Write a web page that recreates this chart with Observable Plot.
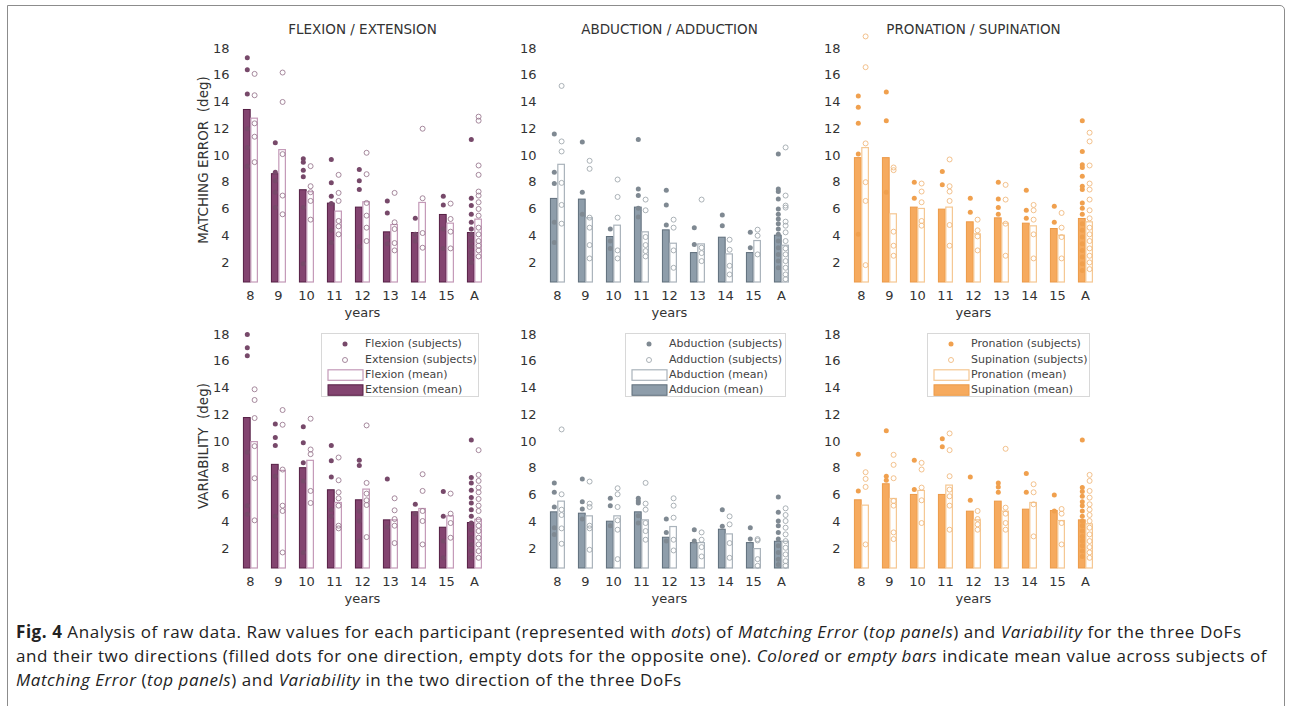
<!DOCTYPE html>
<html><head><meta charset="utf-8">
<script src="https://cdn.jsdelivr.net/npm/d3@7"></script>
<script src="https://cdn.jsdelivr.net/npm/@observablehq/plot@0.6"></script>
<style>
body{margin:0;background:#fff;overflow:hidden;}
#fig{position:relative;width:1289px;height:706px;overflow:hidden;}
#border{position:absolute;left:7px;top:5px;width:1278px;height:740px;border:1.5px solid #8c8c8c;border-top-right-radius:5px;box-sizing:border-box;}
.panel{position:absolute;}
.legend{position:absolute;background:#fff;border:1px solid #d8d8d8;font-family:"DejaVu Sans";font-size:11px;color:#444;box-sizing:border-box;}
.legend .row{position:absolute;left:0;height:14px;line-height:14px;white-space:nowrap;}
.legend .row svg{position:absolute;left:0;top:1px;}
.legend .row span{position:absolute;left:43px;top:0;}
#cap{position:absolute;left:16px;top:620px;font-family:"Open Sans";font-size:17px;letter-spacing:0.55px;line-height:24px;color:#222;white-space:nowrap;}
</style></head>
<body><div id="fig"><div id="border"></div></div>
<script>
const categories = ["8","9","10","11","12","13","14","15","A"];
const yTicks = [2,4,6,8,10,12,14,16,18];

// FLEXION / EXTENSION — matching error
const flexME_mean = [13.4, 8.6, 7.4, 6.4, 6.1, 4.25, 4.2, 5.55, 4.2];
const extME_mean  = [12.75, 10.4, 7.25, 5.8, 6.5, 4.8, 6.45, 4.9, 5.2];
const flexME_subj = [[17.3,16.4,14.6,12.0,10.6,9.2],[10.95,8.75,8.1,7.25,6.1],[9.75,9.5,8.9,8.4,6.1,1.9],[9.7,7.95,6.95,6.4,4.4,3.5],[8.95,8.1,7.45,3.2],[6.6,5.7,3.9,3.4],[5.3,4.1,3.6],[6.95,6.3,4.5,3.05],[11.2,6.8,6.25,5.6,5.0,4.5,4.1,3.6,3.2,2.75,2.4,2.0]];
const extME_subj  = [[16.1,14.5,12.4,11.4,9.5],[16.2,14.0,10.1,7.0,5.6],[9.2,7.7,7.25,6.6,5.2],[8.55,7.2,6.6,5.1,4.7,4.1],[10.2,8.6,6.45,5.5,4.6,3.6],[7.2,5.0,4.5,3.45,2.9],[12.0,6.8,4.2,3.1],[6.4,5.25,4.3,3.05],[12.9,12.6,9.25,8.55,7.3,7.0,6.5,6.0,5.5,4.6,4.1,3.6,3.25,2.9,2.45]];
// FLEXION / EXTENSION — variability
const flexVar_mean = [11.75, 8.25, 8.0, 6.35, 5.6, 4.1, 4.7, 3.55, 3.9];
const extVar_mean  = [9.95, 7.8, 8.55, 5.4, 6.4, 4.1, 4.95, 4.4, 4.15];
const flexVar_subj = [[18.0,17.0,16.4,9.2,5.2,4.55],[11.3,10.3,9.7,7.4,4.4],[11.1,9.9,8.4,7.05,1.7],[9.7,8.55,7.35,4.9,4.4],[8.6,8.2,4.8,4.05,2.55],[7.2,3.6],[5.3,4.6],[6.25,4.4,2.55,1.3],[10.1,7.3,6.9,6.35,5.8,5.4,4.9,4.4,3.9,3.4,2.8,2.3,1.8,1.3]];
const extVar_subj  = [[13.9,13.1,11.75,9.65,7.25,4.1],[12.35,11.25,7.9,5.2,4.8,1.7],[11.7,9.4,9.05,6.3,5.4],[8.8,7.1,6.2,5.75,5.2,3.7,3.5],[11.2,6.9,6.1,5.6,5.25,2.85],[5.75,4.85,4.2,3.7,2.4],[7.55,6.3,4.8,4.05,2.3],[6.1,4.6,3.9,2.8],[9.35,7.5,7.05,6.55,6.2,5.7,5.2,4.8,4.15,3.7,3.3,2.8,2.3,1.8,1.3]];

// ABDUCTION / ADDUCTION — matching error
const abdME_mean = [6.75, 6.7, 3.9, 6.1, 4.4, 2.7, 3.85, 2.7, 4.0];
const addME_mean = [9.3, 5.3, 4.75, 4.25, 3.4, 3.35, 2.6, 3.6, 3.25];
const abdME_subj = [[11.6,8.75,7.9,5.0,3.5],[11.0,7.25,5.6],[4.5,3.6,3.05],[11.2,7.5,7.0,6.05,5.4],[7.4,6.3,4.8],[4.6,3.35],[5.55,4.75],[4.25,3.1],[10.1,7.5,7.3,6.75,6.0,5.6,5.25,4.9,4.5,4.1,3.6,3.1,2.6,2.1,1.6]];
const addME_subj = [[15.2,11.05,10.3,7.95,6.3,4.9],[9.6,9.0,5.35,4.6,3.3,2.3],[8.2,6.9,5.35,2.9,2.3],[6.7,5.9,3.9,3.3,2.85,2.45],[5.2,4.6,2.9,1.6],[6.7,3.1,2.7,2.1],[3.7,2.95,1.75,1.1],[4.45,4.0,2.6],[10.6,7.0,6.25,6.1,5.05,4.75,4.25,3.6,3.05,2.6,2.1,1.6,1.1,0.75]];
// ABDUCTION / ADDUCTION — variability
const abdVar_mean = [4.7, 4.6, 4.0, 4.7, 2.8, 2.4, 3.4, 2.4, 2.5];
const addVar_mean = [5.5, 4.4, 4.4, 4.1, 3.6, 2.4, 3.05, 1.95, 2.5];
const abdVar_subj = [[6.9,6.2,5.1,3.55,3.05],[7.2,5.5,4.95,4.2],[5.75,5.2,3.7],[5.75,5.55,5.4,4.45,3.9],[4.2,3.2,2.55],[3.4,2.55],[4.9,3.65],[3.55,2.7],[5.85,4.7,4.05,3.7,3.2,2.7,2.2,1.7,1.2,0.8]];
const addVar_subj = [[10.9,6.05,4.9,4.5,3.5,2.35],[7.0,5.35,5.1,3.7,3.5,1.9],[6.5,6.05,5.1,4.1,3.4,1.2],[6.9,5.35,4.9,3.9,3.3,2.65],[5.75,5.2,4.3,2.65,1.85],[3.2,2.65,2.1,1.4],[4.4,3.8,2.4,1.3],[2.7,2.6,1.2,0.7],[5.0,4.5,4.05,3.55,3.05,2.55,2.05,1.55,1.05,0.7]];

// PRONATION / SUPINATION — matching error
const proME_mean = [9.8, 9.8, 6.1, 5.95, 5.0, 5.3, 4.9, 4.5, 5.25];
const supME_mean = [10.55, 5.6, 6.0, 6.1, 4.1, 4.9, 4.7, 4.0, 5.0];
const proME_subj = [[14.45,13.6,12.4,10.1,4.1],[14.75,12.6,7.25],[8.0,6.8],[8.8,7.8],[6.8,5.75],[8.0,6.75,6.1,5.6],[7.4,5.9,5.3],[6.2,5.0],[12.6,10.3,9.3,9.1,8.45,7.7,7.45,6.45,6.05,5.6,4.9,4.4,3.9,3.4,2.9,2.4,1.9,1.4]];
const supME_subj = [[18.9,16.6,10.9,8.0,6.6,1.8],[9.1,8.9,4.3,3.25,2.5],[7.9,7.3,6.5,5.1,4.75],[9.7,7.7,7.3,6.6,4.8,3.25],[5.2,4.4,3.95,2.9],[7.8,6.7,4.9,2.5],[6.3,5.9,5.2,4.1,2.3],[5.7,4.6,3.9,2.3],[11.7,11.05,9.25,7.9,7.45,6.7,5.9,5.3,4.6,4.1,3.6,3.05,2.5,2.0,1.5]];
// PRONATION / SUPINATION — variability
const proVar_mean = [5.6, 6.8, 6.0, 6.0, 4.75, 5.5, 4.9, 4.8, 4.1];
const supVar_mean = [5.2, 5.7, 6.3, 6.7, 4.1, 4.75, 5.4, 4.05, 3.8];
const proVar_subj = [[9.05,6.3],[10.8,7.4,7.1],[8.6,6.4],[10.2,9.6],[7.35,5.6],[6.9,6.6,6.2],[7.6,6.2],[6.0,4.8],[10.1,6.55,6.25,5.9,5.5,5.2,4.8,4.4,4.05,3.7,3.3,2.9,2.55,2.2,1.8,1.4]];
const supVar_subj = [[7.7,7.2,6.6,2.3],[9.0,8.25,7.25,5.55,5.2,3.2,2.7],[8.4,7.9,6.55,5.6,3.9],[10.6,9.35,7.4,6.4,5.9,5.2,3.4],[4.8,4.2,3.8,3.4],[9.45,5.05,4.6,3.9,3.4],[6.8,6.2,5.3,2.9],[4.95,4.6,3.9,2.3],[7.5,7.05,6.3,5.8,5.3,4.9,4.5,4.05,3.55,3.05,2.55,2.1,1.7,1.3]];

const titles = ["FLEXION / EXTENSION", "ABDUCTION / ADDUCTION", "PRONATION / SUPINATION"];
const rowLabels = ["MATCHING ERROR\u00a0 (deg)", "VARIABILITY\u00a0 (deg)"];
const legendLabels = [
  ["Flexion (subjects)", "Extension (subjects)", "Flexion (mean)", "Extension (mean)"],
  ["Abduction (subjects)", "Adduction (subjects)", "Abduction (mean)", "Adducion (mean)"],
  ["Pronation (subjects)", "Supination (subjects)", "Pronation (mean)", "Supination (mean)"]
];
const palettes = [
  {barFill:"#834470", barStroke:"#551e44", emptyStroke:"#c49ab8", dotFill:"#77496a", dotStroke:"#9c7c92"},
  {barFill:"#8e9daa", barStroke:"#5f6e7b", emptyStroke:"#aab3bb", dotFill:"#7f8992", dotStroke:"#a2a9af"},
  {barFill:"#f6aa5e", barStroke:"#ec9a48", emptyStroke:"#f5c792", dotFill:"#f0a04e", dotStroke:"#f1ba80"}
];
const data = [
  [[flexME_mean, extME_mean, flexME_subj, extME_subj], [flexVar_mean, extVar_mean, flexVar_subj, extVar_subj]],
  [[abdME_mean, addME_mean, abdME_subj, addME_subj], [abdVar_mean, addVar_mean, abdVar_subj, addVar_subj]],
  [[proME_mean, supME_mean, proME_subj, supME_subj], [proVar_mean, supVar_mean, proVar_subj, supVar_subj]]
];

const fig = document.getElementById("fig");
const panelLeft = [194, 501, 805];
const rowTop = [0, 318];
const plotW = 256;
const bw = plotW / categories.length;

const asMeans = arr => arr.map((v, i) => ({cat: categories[i], v}));
const asSubj = arr => arr.flatMap((vs, i) => vs.map(v => ({cat: categories[i], v})));

for (let col = 0; col < 3; col++) {
  for (let row = 0; row < 2; row++) {
    const pal = palettes[col];
    const [mF, mE, sF, sE] = data[col][row];
    const top = row === 0;
    const marks = [
      Plot.barY(asMeans(mF), {x: "cat", y1: 0.5, y2: "v", fill: pal.barFill, stroke: pal.barStroke, strokeWidth: 1, insetLeft: bw/2 - 6.8, insetRight: bw/2 - 0.4}),
      Plot.barY(asMeans(mE), {x: "cat", y1: 0.5, y2: "v", fill: "white", stroke: pal.emptyStroke, strokeWidth: 1.2, insetLeft: bw/2 + 0.6, insetRight: bw/2 - 7.6}),
      Plot.dot(asSubj(sF), {x: "cat", y: "v", r: 2.5, fill: pal.dotFill, stroke: "none", dx: -3.2}),
      Plot.dot(asSubj(sE), {x: "cat", y: "v", r: 2.5, fill: "none", stroke: pal.dotStroke, strokeWidth: 0.9, dx: 4.1}),
      Plot.axisX({tickSize: 0, tickPadding: 8, line: true, stroke: "#8c8c8c", fill: "#333", fontSize: 13, label: null}),
      Plot.axisY({ticks: yTicks, tickSize: 0, tickPadding: 5, line: true, stroke: "#8c8c8c", fill: "#333", fontSize: 13, label: null}),
      Plot.text(["years"], {frameAnchor: "bottom", lineAnchor: "middle", dy: 30, fontSize: 13, fill: "#333"})
    ];
    if (top) marks.push(Plot.text([titles[col]], {frameAnchor: "top", lineAnchor: "middle", dy: -8, fontSize: 13.5, fill: "#333"}));
    if (col === 0) marks.push(Plot.text([rowLabels[row]], {frameAnchor: "left", textAnchor: "middle", lineAnchor: "middle", rotate: -90, dx: -31, fontSize: 13.5, fill: "#333"}));
    const svg = Plot.plot({
      width: 40 + plotW + 10,
      height: top ? 318 : 287,
      marginLeft: 40, marginRight: 10,
      marginTop: top ? 37 : 5,
      marginBottom: top ? 36 : 37,
      x: {domain: categories, padding: 0},
      y: {domain: [0.5, 18.82]},
      style: {fontFamily: "DejaVu Sans", fontSize: "13px", background: "transparent", color: "#333", overflow: "visible"},
      marks
    });
    svg.classList.add("panel");
    svg.style.left = panelLeft[col] + "px";
    svg.style.top = rowTop[row] + "px";
    fig.appendChild(svg);
  }
  // legend in the bottom panel
  const lgOff = [87, 84, 82], lgW = [158, 161, 163];
  const pal = palettes[col];
  const lg = document.createElement("div");
  lg.className = "legend";
  lg.style.left = (panelLeft[col] + 40 + lgOff[col]) + "px";
  lg.style.top = "333px";
  lg.style.width = lgW[col] + "px";
  lg.style.height = "64px";
  const sw = [
    `<circle cx="23" cy="6" r="2.5" fill="${pal.dotFill}"/>`,
    `<circle cx="23" cy="6" r="2.5" fill="none" stroke="${pal.dotStroke}" stroke-width="0.9"/>`,
    `<rect x="6" y="0.8" width="35" height="10.5" fill="white" stroke="${pal.emptyStroke}" stroke-width="1.2"/>`,
    `<rect x="6" y="0.8" width="35" height="10.5" fill="${pal.barFill}" stroke="${pal.barStroke}" stroke-width="1"/>`
  ];
  const rowY = [3, 18.5, 33.5, 49];
  legendLabels[col].forEach((t, i) => {
    const r = document.createElement("div");
    r.className = "row";
    r.style.top = rowY[i] + "px";
    r.innerHTML = `<svg width="42" height="12">${sw[i]}</svg><span>${t}</span>`;
    lg.appendChild(r);
  });
  fig.appendChild(lg);
}

const cap = document.createElement("div");
cap.id = "cap";
cap.innerHTML = `<b>Fig. 4</b> Analysis of raw data. Raw values for each participant (represented with <i>dots</i>) of <i>Matching Error</i> (<i>top panels</i>) and <i>Variability</i> for the three DoFs<br>and their two directions (filled dots for one direction, empty dots for the opposite one). <i>Colored</i> or <i>empty bars</i> indicate mean value across subjects of<br><i>Matching Error</i> (<i>top panels</i>) and <i>Variability</i> in the two direction of the three DoFs`;
fig.appendChild(cap);
</script></body></html>
